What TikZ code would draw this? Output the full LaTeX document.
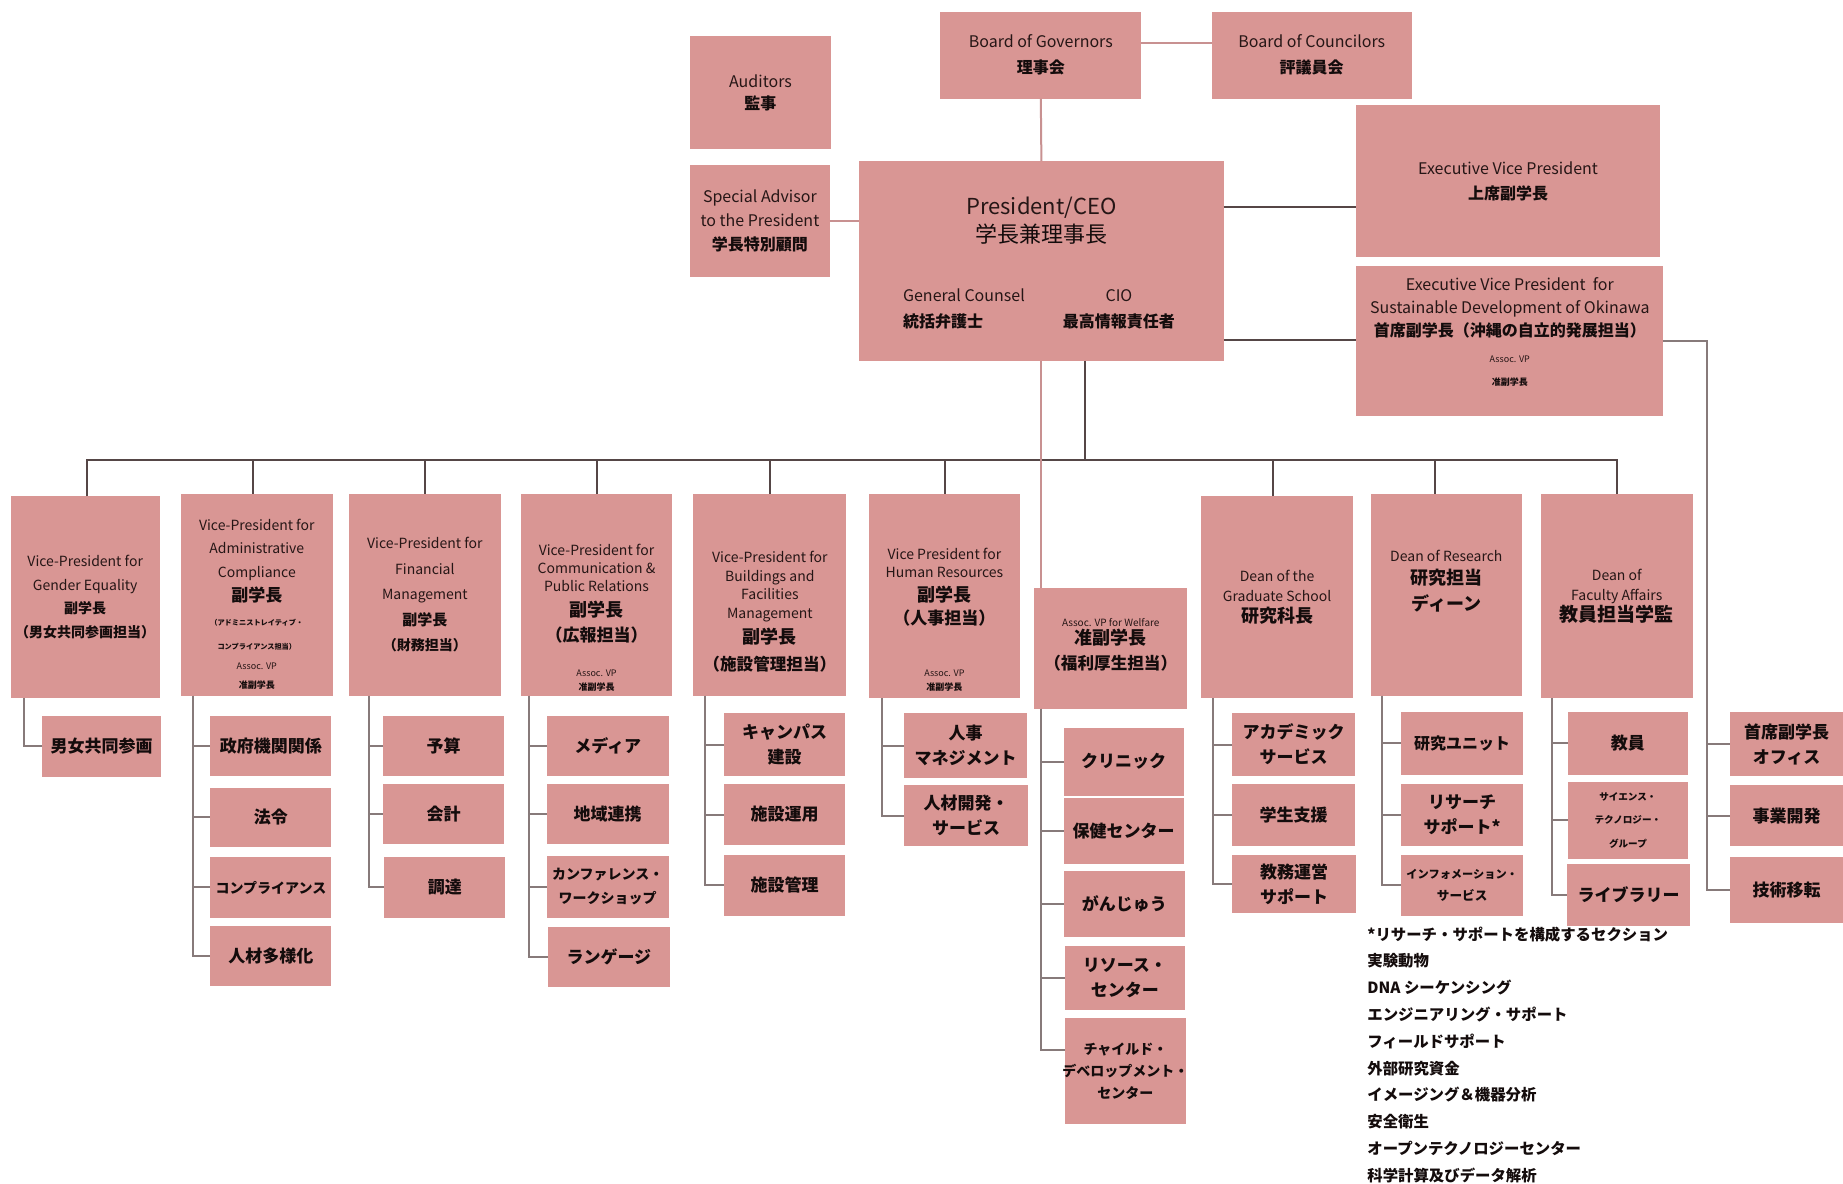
\documentclass[tikz,border=0pt]{standalone}
\usepackage{fontspec}
\setmainfont{Noto Sans CJK JP}
\usetikzlibrary{fit,calc}
\definecolor{boxpink}{RGB}{217,150,148}
\definecolor{entext}{RGB}{38,22,22}
\definecolor{jptext}{RGB}{20,12,12}
\definecolor{darkln}{RGB}{85,70,70}
\definecolor{pinkln}{RGB}{200,145,145}
\definecolor{greyln}{RGB}{135,122,122}
\newcommand\jp[1]{{\bfseries\color{jptext}#1}}
\newcommand\fsz[2]{\fontsize{#1}{#2}\selectfont}
\tikzset{
  box/.style={fill=boxpink, draw=none, inner sep=0pt, outer sep=0pt},
  txt/.style={align=center, text=entext, inner sep=0pt},
  st/.style={font=\fsz{8.5}{12.5}\bfseries, text=jptext},
  dk/.style={draw=darkln, line width=1pt},
  pk/.style={draw=pinkln, line width=1pt},
  gy/.style={draw=greyln, line width=1pt},
}
\newcommand\obox[7][]{%
  \path (#3,#4) coordinate (#2-nw) (#5,#6) coordinate (#2-se);
  \node[box, fit=(#2-nw)(#2-se)] (#2) {};
  \node[txt,#1] (#2-t) at (#2.center) {#7};}
\newcommand\sbx[7][]{\obox[st,#1]{#2}{#3}{#4}{#5}{#6}{#7}}
\begin{document}
\begin{tikzpicture}[x=0.5877pt, y=-0.5877pt]
\fill[white] (0,0) rectangle (1568,1007);
\useasboundingbox (0,0) rectangle (1568,1007);

% ---- top level ----
\obox[font=\fsz{8}{13}]{bog}{800}{10}{971}{84}{Board of Governors\\\jp{理事会}}
\obox[font=\fsz{8}{13}]{boc}{1031}{10}{1201}{84}{Board of Councilors\\\jp{評議員会}}
\obox[font=\fsz{8}{11}]{aud}{587}{31}{707}{127}{Auditors\\\jp{監事}}
\obox[font=\fsz{8}{12}]{sa}{587}{140}{706}{236}{Special Advisor\\to the President\\\jp{学長特別顧問}}
\obox[font=\fsz{11}{14}, yshift=20pt]{pres}{731}{137}{1041}{307}{President/CEO\\{\color{jptext}学長兼理事長}}
\node[txt, font=\fsz{8}{13}, align=left, anchor=west] (gc) at (768,263) {General Counsel\\\jp{統括弁護士}};
\node[txt, font=\fsz{8}{13}] (cio) at (952,263) {CIO\\\jp{最高情報責任者}};
\obox[font=\fsz{8}{12.5}]{evp}{1154}{89}{1412}{219}{Executive Vice President\\\jp{上席副学長}}
\obox[font=\fsz{8}{11.5}, yshift=4.7pt]{sdo}{1154}{226}{1415}{354}{Executive Vice President~ for\\Sustainable Development of Okinawa\\\jp{首席副学長（沖縄の自立的発展担当）}\\[1.5pt]{\fsz{4.5}{5}Assoc. VP}\\{\fsz{4.5}{5}\jp{准副学長}}}

% ---- VP row ----
\obox[font=\fsz{7}{11.7}]{g1}{9}{422}{136}{594}{Vice-President for\\Gender Equality\\\jp{副学長}\\\jp{（男女共同参画担当）}}
\obox[font=\fsz{7}{11.9}, yshift=-4.7pt]{g2}{154}{420}{283}{592}{Vice-President for\\Administrative\\Compliance\\{\fsz{8.5}{9}\jp{副学長}}\\{\fsz{3.6}{4}\jp{（アドミニストレイティブ・}}\\{\fsz{3.6}{4}\jp{コンプライアンス担当）}}\\[-1.5pt]{\fsz{4.5}{5}Assoc. VP}\\[-2.5pt]{\fsz{4.5}{5}\jp{准副学長}}}
\obox[font=\fsz{7}{12.8}]{g3}{297}{420}{426}{592}{Vice-President for\\Financial\\Management\\{\fsz{7.5}{8}\jp{副学長}}\\{\fsz{7}{8}\jp{（財務担当）}}}
\obox[font=\fsz{7}{9.1}, yshift=-11.5pt]{g4}{443}{420}{572}{592}{Vice-President for\\Communication \&\\Public Relations\\[3.2pt]{\fsz{9}{9}\jp{副学長}}\\[3.2pt]{\fsz{8.5}{9}\jp{（広報担当）}}\\[8.5pt]{\fsz{4.5}{5}Assoc. VP}\\[-2pt]{\fsz{4.5}{5}\jp{准副学長}}}
\obox[font=\fsz{7}{9.2}, yshift=-8.5pt]{g5}{590}{420}{720}{592}{Vice-President for\\Buildings and\\Facilities\\Management\\[2pt]{\fsz{9}{9}\jp{副学長}}\\[4.3pt]{\fsz{8.3}{9}\jp{（施設管理担当）}}}
\obox[font=\fsz{7}{9.2}, yshift=-11.8pt]{g6}{739}{420}{868}{594}{Vice President for\\Human Resources\\[2.5pt]{\fsz{9}{9}\jp{副学長}}\\[2.5pt]{\fsz{8.5}{9}\jp{（人事担当）}}\\[16.6pt]{\fsz{4.5}{5}Assoc. VP}\\[-2.2pt]{\fsz{4.5}{5}\jp{准副学長}}}
\obox[font=\fsz{5}{9.4}, yshift=1.8pt]{wel}{880}{500}{1010}{603}{Assoc. VP for Welfare\\{\fsz{9}{9}\jp{准副学長}}\\[3pt]{\fsz{8.3}{9}\jp{（福利厚生担当）}}}
\obox[font=\fsz{7}{10}]{g8}{1022}{422}{1151}{594}{Dean of the\\Graduate School\\[0.6pt]{\fsz{9}{9}\jp{研究科長}}}
\obox[font=\fsz{7}{11.2}, yshift=6.8pt]{g9}{1166}{420}{1295}{592}{Dean of Research\\{\fsz{9}{9}\jp{研究担当}}\\[1.7pt]{\fsz{9}{9}\jp{ディーン}}}
\obox[font=\fsz{7}{10}]{g10}{1311}{420}{1440}{594}{Dean of\\Faculty Affairs\\[0.6pt]{\fsz{9.5}{9}\jp{教員担当学監}}}

% ---- sub units ----
\sbx{s1}{36}{609}{137}{661}{男女共同参画}
\sbx{a1}{179}{609}{282}{660}{政府機関関係}
\sbx{a2}{179}{670}{282}{721}{法令}
\sbx[font=\fsz{7}{10}\bfseries]{a3}{179}{729}{282}{781}{コンプライアンス}
\sbx{a4}{179}{788}{282}{839}{人材多様化}
\sbx{f1}{326}{609}{429}{660}{予算}
\sbx{f2}{326}{667}{429}{718}{会計}
\sbx{f3}{327}{729}{430}{781}{調達}
\sbx{c1}{465}{609}{569}{660}{メディア}
\sbx{c2}{465}{667}{569}{718}{地域連携}
\sbx[font=\fsz{7}{12}\bfseries]{c3}{465}{728}{569}{781}{カンファレンス・\\ワークショップ}
\sbx{c4}{466}{789}{570}{840}{ランゲージ}
\sbx{b1}{616}{607}{719}{660}{キャンパス\\建設}
\sbx{b2}{616}{667}{719}{719}{施設運用}
\sbx{b3}{616}{727}{719}{779}{施設管理}
\sbx{h1}{769}{607}{874}{662}{人事\\マネジメント}
\sbx{h2}{769}{668}{875}{720}{人材開発・\\サービス}
\sbx{w1}{905}{619}{1007}{677}{クリニック}
\sbx{w2}{905}{679}{1007}{735}{保健センター}
\sbx{w3}{905}{741}{1008}{797}{がんじゅう}
\sbx{w4}{906}{805}{1008}{859}{リソース・\\センター}
\sbx[font=\fsz{7}{11}\bfseries]{w5}{906}{866}{1009}{956}{チャイルド・\\デベロップメント・\\センター}
\sbx{d1}{1048}{607}{1153}{660}{アカデミック\\サービス}
\sbx{d2}{1048}{667}{1153}{720}{学生支援}
\sbx{d3}{1048}{727}{1154}{777}{教務運営\\サポート}
\sbx[font=\fsz{8}{12}\bfseries]{r1}{1192}{606}{1296}{659}{研究ユニット}
\sbx{r2}{1192}{667}{1296}{720}{リサーチ\\サポート*}
\sbx[font=\fsz{5.6}{11}\bfseries]{r3}{1192}{727}{1296}{779}{インフォメーション・\\{\fsz{6.3}{7}サービス}}
\sbx{fa1}{1334}{606}{1436}{659}{教員}
\sbx[font=\fsz{4.8}{11.8}\bfseries]{fa2}{1334}{665}{1436}{731}{サイエンス・\\テクノロジー・\\グループ}
\sbx{fa3}{1333}{735}{1438}{788}{ライブラリー}
\sbx{x1}{1472}{606}{1568}{660}{首席副学長\\オフィス}
\sbx{x2}{1472}{668}{1568}{720}{事業開発}
\sbx{x3}{1472}{729}{1568}{785}{技術移転}

% ---- footnote ----
\node[anchor=north west, align=left, inner sep=0pt, font=\fsz{7.7}{13.4}\bfseries, text=jptext] (note) at (1163,788)
 {*リサーチ・サポートを構成するセクション\\実験動物\\DNA シーケンシング\\エンジニアリング・サポート\\フィールドサポート\\外部研究資金\\イメージング＆機器分析\\安全衛生\\オープンテクノロジーセンター\\科学計算及びデータ解析};

% ---- connectors ----
\draw[pk] (bog.east |- 0,37) -- (boc.west |- 0,37);
\draw[pk] (bog.south) -- (pres.north);
\draw[pk] (sa.east) -- (sa.east -| pres.west);
\draw[dk] (pres.east |- 0,176) -- (evp.west |- 0,176);
\draw[dk] (pres.east |- 0,289) -- (sdo.west |- 0,289);
\coordinate (rc) at (1452,290);
\draw[gy] (sdo.east |- rc) -- (rc) |- (x1.west);
\draw[gy] (rc) |- (x2.west);
\draw[gy] (rc) |- (x3.west);

\coordinate (bus) at (0,391);
\coordinate (bj) at (923,391);
\draw[dk] (pres.south -| bj) -- (bj);
\draw[dk] (g1.north -| 74,0) |- (g10.north |- bus) -- (g10.north);
\foreach \n/\xx in {g1/74, g2/215, g3/362, g4/508, g5/655, g6/804, g8/1083, g9/1221}
  \draw[dk] (\n.north -| \xx,0) -- (\xx,391);
\draw[pk] (pres.south) -- (pres.south |- wel.north);

\draw[gy] (g1.south -| 20,0) |- (s1.west);
\foreach \s in {a1,a2,a3,a4} \draw[gy] (g2.south -| 164,0) |- (\s.west);
\foreach \s in {f1,f2,f3} \draw[gy] (g3.south -| 314,0) |- (\s.west);
\foreach \s in {c1,c2,c3,c4} \draw[gy] (g4.south -| 450,0) |- (\s.west);
\foreach \s in {b1,b2,b3} \draw[gy] (g5.south -| 600,0) |- (\s.west);
\foreach \s in {h1,h2} \draw[gy] (g6.south -| 750,0) |- (\s.west);
\foreach \s in {w1,w2,w3,w4} \draw[gy] (wel.south -| 886,0) |- (\s.west);
\draw[gy] (wel.south -| 886,0) |- ($(w5.north west)!0.3!(w5.south west)$);
\foreach \s in {d1,d2,d3} \draw[gy] (g8.south -| 1032,0) |- (\s.west);
\foreach \s in {r1,r2,r3} \draw[gy] (g9.south -| 1176,0) |- (\s.west);
\foreach \s in {fa1,fa2,fa3} \draw[gy] (g10.south -| 1320,0) |- (\s.west);
\end{tikzpicture}
\end{document}
